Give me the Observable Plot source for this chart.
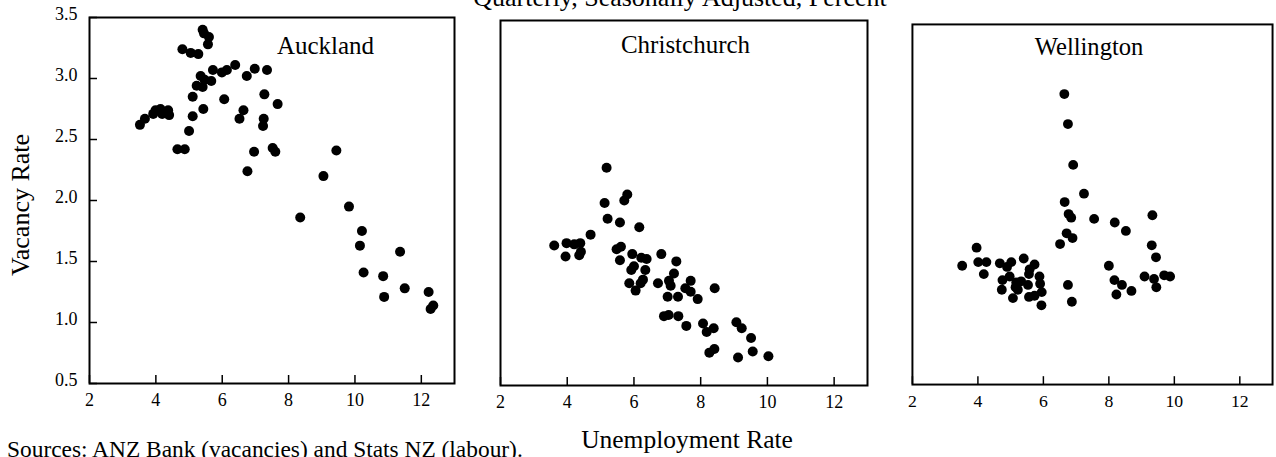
<!DOCTYPE html>
<html>
<head>
<meta charset="utf-8">
<script src="https://cdn.jsdelivr.net/npm/d3@7"></script>
<script src="https://cdn.jsdelivr.net/npm/@observablehq/plot@0.6"></script>
<style>
  html, body { margin: 0; padding: 0; background: #fff; }
  #chart { position: relative; width: 1276px; height: 457px; overflow: hidden; font-family: 'Liberation Serif', 'Times New Roman', serif; color: #000; }
  .abs { position: absolute; white-space: nowrap; }
  .abs svg { display: block; }
  #chart svg text { font-family: 'Liberation Serif', 'Times New Roman', serif; }
</style>
</head>
<body>
<div id="chart"></div>
<script>
// ---- Data ----
const titleText = "Quarterly, Seasonally Adjusted, Percent";
const xLabelText = "Unemployment Rate";
const yLabelText = "Vacancy Rate";
const sourceText = "Sources: ANZ Bank (vacancies) and Stats NZ (labour).";

const panelNames = ["Auckland", "Christchurch", "Wellington"];

const xTicks = [2, 4, 6, 8, 10, 12];
const yTicks = [0.5, 1.0, 1.5, 2.0, 2.5, 3.0, 3.5];
const xDomain = [2, 13];
const yDomain = [0.5, 3.5];

const aucklandU = [3.52,3.67,3.92,3.99,4.14,4.19,4.37,4.40,4.65,4.87,5.00,5.11,5.11,4.80,5.05,5.28,5.23,5.35,5.41,5.43,5.41,5.45,5.60,5.57,5.47,5.67,5.72,5.99,6.14,6.39,6.06,6.52,6.64,6.76,6.74,6.98,6.96,7.35,7.27,7.25,7.23,7.67,7.52,7.60,9.05,9.44,8.35,9.82,10.21,10.15,10.26,10.85,10.88,11.36,11.50,12.22,12.28,12.36];
const aucklandV = [2.62,2.67,2.71,2.74,2.75,2.71,2.74,2.70,2.42,2.42,2.57,2.69,2.85,3.24,3.21,3.20,2.94,3.02,2.93,2.75,3.40,3.37,3.34,3.28,2.99,2.98,3.07,3.05,3.07,3.11,2.83,2.67,2.74,2.24,3.02,3.08,2.40,3.07,2.87,2.67,2.61,2.79,2.43,2.40,2.20,2.41,1.86,1.95,1.75,1.63,1.41,1.38,1.21,1.58,1.28,1.25,1.11,1.14];

const christchurchU = [5.18,5.80,5.71,5.12,5.21,5.58,6.16,4.70,3.61,3.98,4.21,4.39,3.95,4.36,4.41,5.48,5.61,5.58,5.95,6.22,6.38,6.82,7.27,5.92,6.00,6.34,7.20,5.86,6.20,6.27,6.05,6.72,7.05,7.10,7.70,7.54,7.70,8.42,7.01,7.32,7.91,6.90,7.04,7.33,7.57,8.07,8.18,8.39,9.07,9.23,9.51,9.56,8.26,8.41,9.12,10.03];
const christchurchV = [2.29,2.07,2.02,2.00,1.87,1.84,1.80,1.74,1.65,1.67,1.66,1.67,1.56,1.57,1.60,1.62,1.64,1.53,1.58,1.55,1.54,1.58,1.52,1.45,1.48,1.45,1.42,1.34,1.34,1.37,1.28,1.34,1.36,1.32,1.36,1.30,1.27,1.30,1.23,1.23,1.21,1.07,1.08,1.07,0.99,1.01,0.94,0.97,1.02,0.97,0.89,0.78,0.77,0.80,0.73,0.74];

const wellingtonU = [6.64,6.75,6.91,7.24,6.65,6.77,6.85,7.55,8.18,8.52,9.33,6.71,6.89,6.51,9.31,9.44,8.00,9.09,9.38,9.69,9.87,9.45,8.17,8.40,8.69,8.23,6.75,6.87,3.96,3.52,4.01,4.26,4.18,4.67,4.89,5.02,5.40,5.73,5.58,5.56,5.88,4.75,4.97,5.17,5.32,5.53,5.90,4.73,5.15,5.22,5.07,5.56,5.73,5.95,5.94];
const wellingtonV = [2.92,2.67,2.33,2.09,2.02,1.92,1.89,1.88,1.85,1.78,1.91,1.76,1.72,1.67,1.66,1.56,1.49,1.40,1.38,1.41,1.40,1.31,1.37,1.33,1.28,1.25,1.33,1.19,1.64,1.49,1.52,1.52,1.42,1.51,1.48,1.52,1.55,1.50,1.46,1.42,1.40,1.37,1.40,1.35,1.36,1.33,1.34,1.29,1.31,1.29,1.22,1.23,1.24,1.27,1.16];

// ---- Layout ----
const chart = document.getElementById("chart");
const FONT = "'Liberation Serif', 'Times New Roman', serif";

function addText(text, css) {
  const d = document.createElement("div");
  d.className = "abs";
  d.textContent = text;
  Object.assign(d.style, css);
  chart.appendChild(d);
  return d;
}

function panel(cfg) {
  const data = cfg.u.map((x, i) => ({u: x, v: cfg.v[i]}));
  const marks = [
    Plot.frame({stroke: "black", strokeWidth: 2}),
    Plot.axisX(xTicks, {tickSize: 8, dy: -8, tickFormat: () => "", strokeWidth: 1.5, label: null}),
    Plot.axisX(xTicks, {tickSize: 0, tickPadding: 10, fontSize: 18, fontFamily: FONT, label: null}),
    Plot.dot(data, {x: "u", y: "v", r: 5, fill: "black", stroke: null}),
    Plot.text([cfg.name], {text: d => d, frameAnchor: "top", dx: cfg.labelDx, dy: cfg.labelDy, fontSize: 25, fontFamily: FONT, lineAnchor: "middle", fill: "black"})
  ];
  if (cfg.yAxis) {
    marks.push(
      Plot.axisY(yTicks, {tickSize: 8, dx: 8, tickFormat: () => "", strokeWidth: 1.5, label: null}),
      Plot.axisY(yTicks, {tickSize: 0, tickPadding: 12, dy: -3, tickFormat: d3.format(".1f"), fontSize: 18, fontFamily: FONT, label: null})
    );
  }
  const svg = Plot.plot({
    width: cfg.ml + cfg.pw + cfg.mr,
    height: cfg.mt + cfg.ph + cfg.mb,
    marginLeft: cfg.ml, marginRight: cfg.mr, marginTop: cfg.mt, marginBottom: cfg.mb,
    x: {domain: xDomain, label: null},
    y: {domain: yDomain, label: null, axis: cfg.yAxis ? undefined : null},
    style: {fontFamily: FONT, fontSize: "18px", color: "black", background: "transparent", overflow: "visible"},
    marks
  });
  const wrap = document.createElement("div");
  wrap.className = "abs";
  wrap.style.left = (cfg.left - cfg.ml) + "px";
  wrap.style.top = (cfg.top - cfg.mt) + "px";
  wrap.appendChild(svg);
  chart.appendChild(wrap);
}

panel({u: aucklandU, v: aucklandV, name: panelNames[0], left: 89, top: 17, pw: 365, ph: 366, ml: 50, mr: 4, mt: 10, mb: 30, yAxis: true, labelDx: 53.5, labelDy: 28});
panel({u: christchurchU, v: christchurchV, name: panelNames[1], left: 500, top: 20, pw: 367, ph: 365, ml: 4, mr: 4, mt: 4, mb: 30, yAxis: false, labelDx: 1.5, labelDy: 24});
panel({u: wellingtonU, v: wellingtonV, name: panelNames[2], left: 912, top: 24, pw: 366, ph: 366, ml: 4, mr: 4, mt: 4, mb: 30, yAxis: false, labelDx: -3.5, labelDy: 23});

// Title (partly cut at top, as in the reference)
addText(titleText, {left: "0px", width: "1360px", textAlign: "center", top: "-15px", fontSize: "26px", lineHeight: "26px"});
// X axis label
addText(xLabelText, {left: "0px", width: "1374px", textAlign: "center", top: "427px", fontSize: "25.5px", lineHeight: "25.5px"});
// Source note
addText(sourceText, {left: "7px", top: "438px", fontSize: "23.4px", lineHeight: "23.4px"});
// Y axis label (rotated)
addText(yLabelText, {left: "21px", top: "205px", fontSize: "26px", lineHeight: "26px", transform: "translate(-50%, -50%) rotate(-90deg)"});
</script>
</body>
</html>
